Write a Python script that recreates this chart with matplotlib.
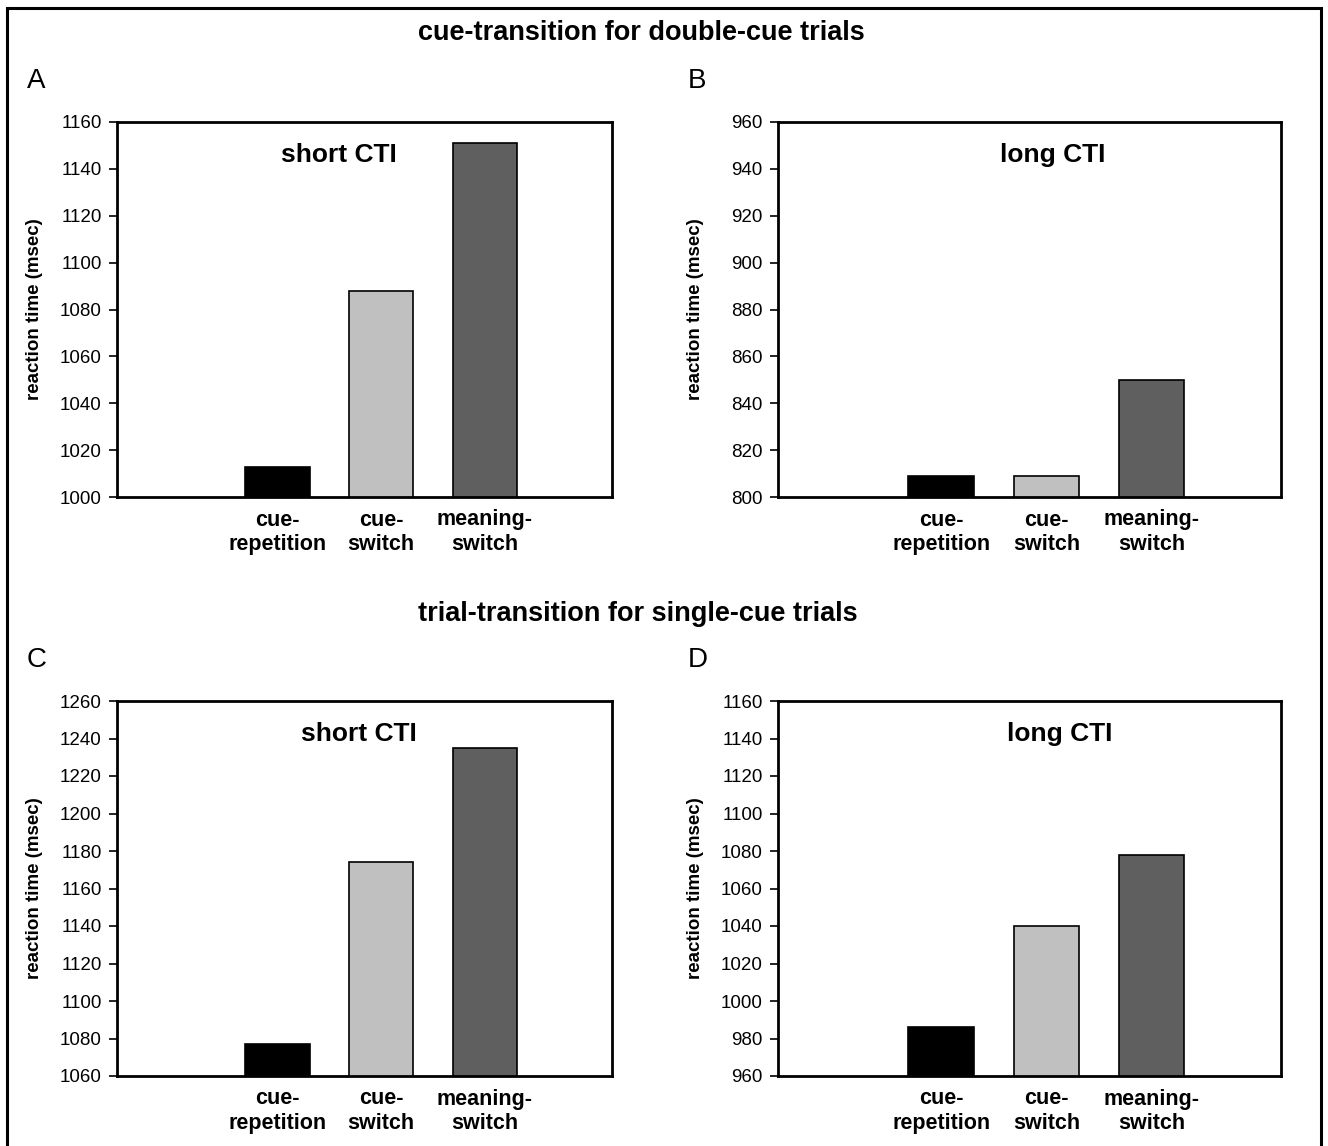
import numpy as np
import matplotlib
matplotlib.use("Agg")
import matplotlib.pyplot as plt
from matplotlib.patches import Rectangle

plt.rcParams['font.family'] = ['Liberation Sans', 'DejaVu Sans']

categories = ["cue-\nrepetition", "cue-\nswitch", "meaning-\nswitch"]
bar_colors = ["#000000", "#c0c0c0", "#5f5f5f"]

rt_a = [1013, 1088, 1151]
rt_b = [809, 809, 850]
rt_c = [1077, 1174, 1235]
rt_d = [986, 1040, 1078]

ylim_a = (1000, 1160)
ylim_b = (800, 960)
ylim_c = (1060, 1260)
ylim_d = (960, 1160)

W, H = 1328, 1146
fig = plt.figure(figsize=(W / 100, H / 100), dpi=100)

# frame around the whole figure
fig.add_artist(Rectangle((7 / W, -0.01), (1321 - 7) / W, 1 - 8 / H + 0.01,
                         transform=fig.transFigure, fill=False,
                         edgecolor='black', linewidth=2.2))

panels = [
    # letter, values, ylim, inset label, label x (axes), left, right, top, bottom (px)
    ("A", rt_a, ylim_a, "short CTI", 0.448, 117, 612, 122, 497),
    ("B", rt_b, ylim_b, "long CTI", 0.547, 778, 1281, 122, 497),
    ("C", rt_c, ylim_c, "short CTI", 0.489, 117, 612, 701, 1076),
    ("D", rt_d, ylim_d, "long CTI", 0.561, 778, 1281, 701, 1076),
]

x = np.arange(len(categories))
for letter, vals, ylim, label, lx, l, r, t, b in panels:
    ax = fig.add_axes([l / W, 1 - b / H, (r - l) / W, (b - t) / H])
    ax.bar(x, vals, width=0.62, color=bar_colors, edgecolor='black', linewidth=1.2)
    ax.set_xlim(-1.55, 3.23)
    ax.set_ylim(*ylim)
    ax.set_yticks(np.arange(ylim[0], ylim[1] + 1, 20))
    ax.set_xticks(x)
    ax.set_xticklabels(categories, fontsize=15.5, fontweight='bold', linespacing=1.2)
    ax.tick_params(axis='x', length=0, pad=9)
    ax.tick_params(axis='y', labelsize=13.5, length=6, width=1.2, pad=5)
    for s in ax.spines.values():
        s.set_linewidth(2)
    ax.set_ylabel("reaction time (msec)", fontsize=13.5, fontweight='bold')
    ax.yaxis.set_label_coords(-74 / (r - l), 0.5)
    ax.text(lx, 0.912, label, transform=ax.transAxes, ha='center', va='center',
            fontsize=19, fontweight='bold')
    fig.text((l - 90) / W, 1 - (t - 41) / H, letter, fontsize=20, ha='left', va='center')

fig.text(418 / W, 1 - 33 / H, "cue-transition for double-cue trials",
         fontsize=19.5, fontweight='bold', ha='left', va='center')
fig.text(418 / W, 1 - 614 / H, "trial-transition for single-cue trials",
         fontsize=19.5, fontweight='bold', ha='left', va='center')

fig.savefig("out.png", dpi=100)
